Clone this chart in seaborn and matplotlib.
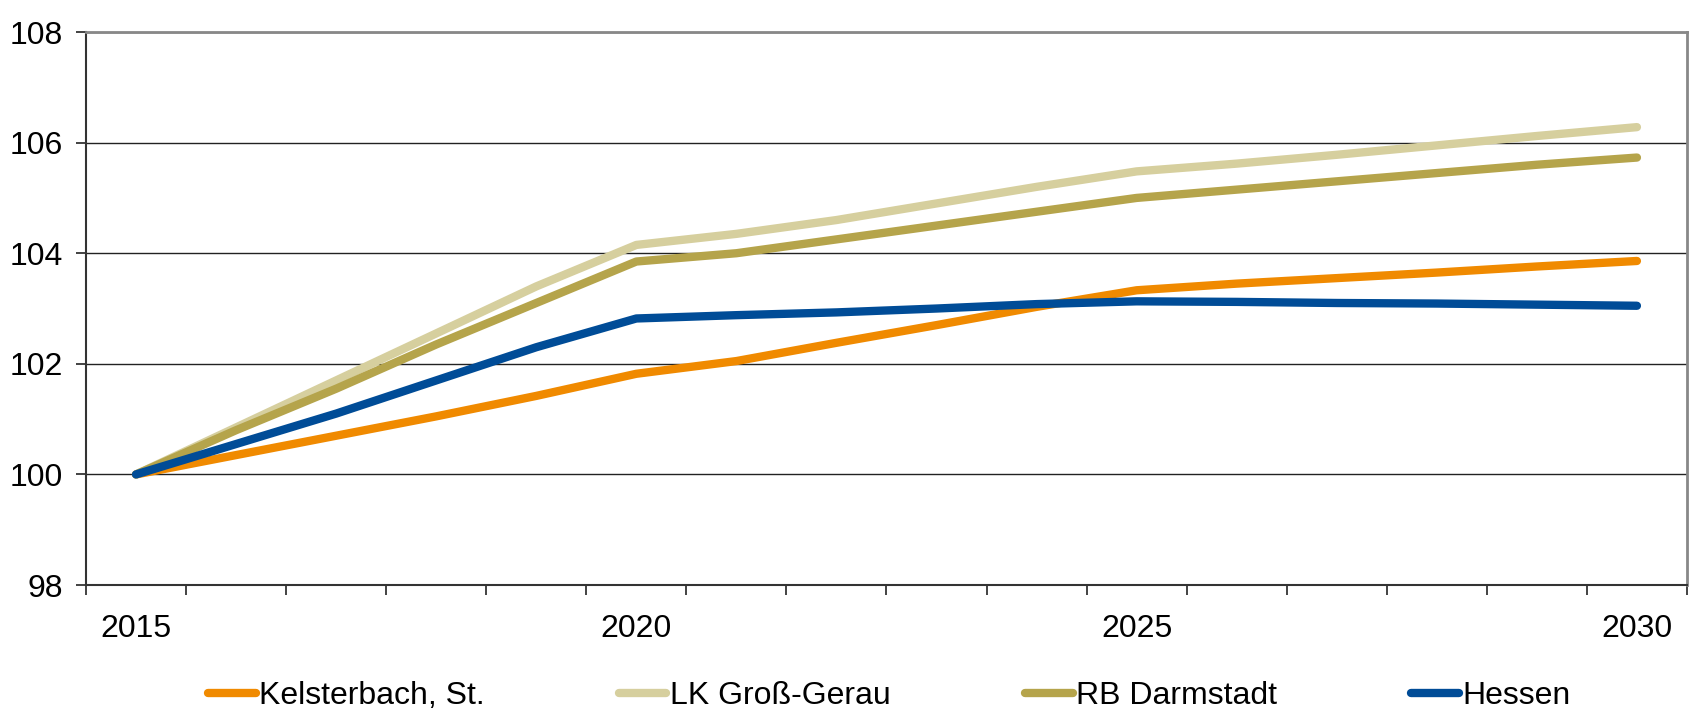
import matplotlib
matplotlib.use("Agg")
import matplotlib.pyplot as plt
from matplotlib.ticker import MultipleLocator, FixedLocator
import pandas as pd
import seaborn as sns

years = list(range(2015, 2031))
kelsterbach = [100.0, 100.35, 100.7, 101.05, 101.42, 101.82, 102.05, 102.38, 102.7, 103.03, 103.33,
               103.45, 103.55, 103.65, 103.76, 103.86]
gross_gerau = [100.0, 100.85, 101.7, 102.55, 103.4, 104.15, 104.35, 104.6, 104.9, 105.2, 105.48,
               105.62, 105.78, 105.95, 106.12, 106.28]
darmstadt = [100.0, 100.8, 101.55, 102.35, 103.1, 103.85, 104.0, 104.25, 104.5, 104.75, 105.0,
             105.15, 105.3, 105.45, 105.6, 105.73]
hessen = [100.0, 100.55, 101.1, 101.7, 102.3, 102.82, 102.88, 102.93, 103.0, 103.08, 103.13,
          103.12, 103.1, 103.09, 103.07, 103.05]

names = ["Kelsterbach, St.", "LK Groß-Gerau", "RB Darmstadt", "Hessen"]
colors = ["#F08A00", "#D6CF9E", "#B5A44B", "#004C97"]


def main():
    sns.set_style("white")
    plt.rcParams["font.family"] = ["Liberation Sans", "DejaVu Sans"]
    plt.rcParams["text.color"] = "black"
    plt.rcParams["xtick.color"] = "black"
    plt.rcParams["ytick.color"] = "black"

    frames = []
    for name, vals in zip(names, [kelsterbach, gross_gerau, darmstadt, hessen]):
        frames.append(pd.DataFrame({"year": years, "value": vals, "series": name}))
    df = pd.concat(frames, ignore_index=True)

    fig = plt.figure(figsize=(16.9, 7.18), dpi=100)
    ax = fig.add_axes([0.0509, 0.1852, 0.9473, 0.7702])

    sns.lineplot(data=df, x="year", y="value", hue="series", hue_order=names,
                 palette=colors, linewidth=6, ax=ax, legend=False, sort=False,
                 solid_capstyle="round", solid_joinstyle="round")

    ax.set_xlim(2014.5, 2030.5)
    ax.set_ylim(98, 108)
    ax.yaxis.set_major_locator(MultipleLocator(2))
    ax.set_xticks([2015, 2020, 2025, 2030])
    ax.xaxis.set_minor_locator(FixedLocator([y - 0.5 for y in years] + [2030.5]))
    ax.tick_params(axis="x", which="major", length=0, pad=21, labelsize=23)
    ax.tick_params(axis="x", which="minor", length=7.5, width=1.2, color="#222222", direction="out", bottom=True)
    ax.tick_params(axis="y", length=7.5, width=1.2, color="#222222", pad=9, labelsize=23, left=True)
    ax.grid(axis="y", color="#222222", linewidth=1)
    ax.grid(axis="x", visible=False)
    ax.set_xlabel("")
    ax.set_ylabel("")

    for side in ["top", "right"]:
        ax.spines[side].set_color("#888888")
        ax.spines[side].set_linewidth(2)
    for side in ["left", "bottom"]:
        ax.spines[side].set_color("#333333")
        ax.spines[side].set_linewidth(1.5)

    handles = [plt.Line2D([], [], color=c, linewidth=6, solid_capstyle="round") for c in colors]
    fig.legend(handles, names, loc="center", bbox_to_anchor=(0.526, 0.03), ncol=4,
               frameon=False, fontsize=23, handlelength=1.5, handletextpad=0.1,
               columnspacing=4.2, borderaxespad=0)

    fig.savefig("out.png", dpi=100)


if __name__ == "__main__":
    main()
